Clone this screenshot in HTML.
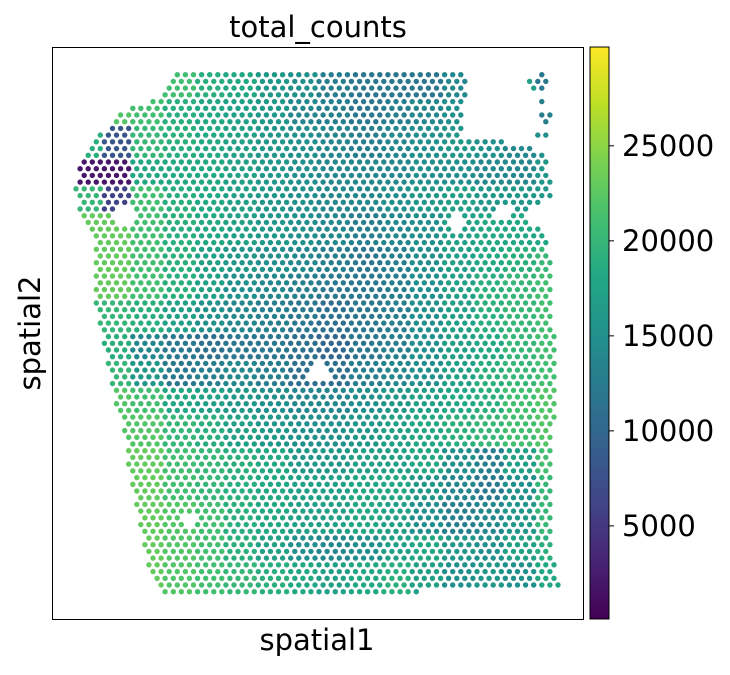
<!DOCTYPE html>
<html><head><meta charset="utf-8"><style>
html,body{margin:0;padding:0;background:#fff;}
svg text{font-family:"DejaVu Sans","Liberation Sans",sans-serif;fill:#000;}
</style></head><body>
<svg id="chart" width="730" height="670" viewBox="0 0 730 670" xmlns="http://www.w3.org/2000/svg">
<defs>
<linearGradient id="vir" x1="0" y1="1" x2="0" y2="0">
<stop offset="0" stop-color="#440154"/><stop offset="0.1" stop-color="#482475"/><stop offset="0.2" stop-color="#414487"/><stop offset="0.3" stop-color="#355f8d"/><stop offset="0.4" stop-color="#2a788e"/><stop offset="0.5" stop-color="#21918c"/><stop offset="0.6" stop-color="#22a884"/><stop offset="0.7" stop-color="#44bf70"/><stop offset="0.8" stop-color="#7ad151"/><stop offset="0.9" stop-color="#bddf26"/><stop offset="1" stop-color="#fde725"/>
</linearGradient>
</defs>
<text x="318" y="37" font-size="29" text-anchor="middle">total_counts</text>
<g id="spots"></g>
<rect x="52.5" y="47.5" width="531" height="572" fill="none" stroke="#000" stroke-width="1"/>
<text x="317" y="650" font-size="29" text-anchor="middle">spatial1</text>
<text x="0" y="0" font-size="29" text-anchor="middle" transform="translate(40,333) rotate(-90)">spatial2</text>
<rect x="590" y="47" width="19" height="572" fill="url(#vir)" stroke="#000" stroke-width="1"/>
<g id="cbticks"></g>
</svg>
<script>
const cbTicks = [5000, 10000, 15000, 20000, 25000];
const vmin = 100, vmax = 30200;
// coarse value map (thousands), 16 cols x 18 row bands, null = outside
const valueBands = [
[null,null,21,21,19,18,16,15,13,12,12,12,14,null,null,12],
[21,22,21,19,18,17,16,14,13,12,13,14,15,15,14,13],
[19,8,20,19,18,17,16,15,14,13,14,15,16,15,14,15],
[2,2,18,18,18,17,16,15,14,14,14,15,15,14,14,16],
[20,6,21,19,18,17,16,15,14,14,15,16,17,16,16,16],
[23,23,21,19,18,17,16,15,14,13,14,15,17,18,18,18],
[23,23,21,19,17,16,15,14,13,12,13,15,17,18,19,20],
[23,23,21,19,17,15,14,13,12,12,13,15,17,19,20,21],
[20,20,19,17,15,14,13,12,11,12,13,15,17,19,20,21],
[19,19,14,12,11,12,12,11,10,12,13,15,17,18,20,21],
[20,20,16,12,13,14,13,11,11,13,14,15,17,19,20,21],
[22,22,21,18,17,16,15,14,14,15,16,17,18,19,21,22],
[22,22,22,20,19,17,16,15,15,16,17,18,19,20,21,22],
[23,23,23,21,20,19,18,16,16,17,17,18,15,13,17,21],
[23,23,23,21,20,19,18,17,17,18,18,16,14,12,15,20],
[23,23,23,22,21,19,18,17,17,18,17,15,13,14,16,20],
[23,23,23,22,21,19,17,15,14,15,17,18,16,15,17,19],
[23,23,23,22,21,20,19,18,17,18,19,17,15,16,15,18]
];
// tissue outline keypoints [y, x]
const leftEdge = [[75,178],[95,160],[115,118],[135,100],[155,85],[181,75],[200,78],[215,80],[240,95],[300,95],[330,100],[350,105],[370,108],[400,115],[430,125],[470,128],[500,135],[540,145],[570,150],[592,160]];
const rightEdge = [[75,467],[120,460],[135,462],[145,520],[155,548],[200,550],[212,522],[235,545],[260,550],[300,552],[400,555],[450,550],[530,550],[570,555],[586,560],[592,410]];
// holes [y, x, radius]
const holes = [[372,320,11],[215,125,10],[222,458,8],[212,505,9],[520,190,8]];
const topRight = [[75,538,542],[81,528,548],[88,532,540],[95,540,542],[102,540,542],[115,542,548],[125,540,550],[135,536,550]];

const NS = "http://www.w3.org/2000/svg";
const yScale = v => 619 - (v - vmin) / (vmax - vmin) * 572;
const stops = ["#440154","#482475","#414487","#355f8d","#2a788e","#21918c","#22a884","#44bf70","#7ad151","#bddf26","#fde725"];
function hex(c){return [1,3,5].map(i=>parseInt(c.substr(i,2),16));}
function viridis(v){
  let t = Math.max(0, Math.min(1, (v - vmin) / (vmax - vmin))) * 10;
  let i = Math.min(9, Math.floor(t)), f = t - i;
  const a = hex(stops[i]), b = hex(stops[i+1]);
  return "rgb(" + a.map((x,k)=>Math.round(x+(b[k]-x)*f)).join(",") + ")";
}
function edgeAt(list, y){
  if (y <= list[0][0]) return list[0][1];
  for (let i=1;i<list.length;i++){ if (y <= list[i][0]) { const [y0,x0]=list[i-1],[y1,x1]=list[i]; return x0+(x1-x0)*(y-y0)/(y1-y0);} }
  return list[list.length-1][1];
}
function bandValue(x,y){
  let r = Math.max(0, Math.min(17, Math.floor((y-70)/28.9)));
  let c = Math.max(0, Math.min(15, Math.floor((x-70)/31)));
  let v = valueBands[r][c];
  if (v === null) v = 17;
  return v*1000;
}
const g = document.getElementById("spots");
const rows = 78, dy = (591.7-74.7)/77, dx = 4.05;
for (let r=0;r<rows;r++){
  const y = 74.7 + r*dy;
  const L = edgeAt(leftEdge,y), R = edgeAt(rightEdge,y);
  let tr = topRight.find(t=>Math.abs(t[0]-y)<3.4);
  for (let c=(r%2);c<124;c+=2){
    const x = 72 + c*dx;
    let inside = (x>=L-1 && x<=R+1) || (tr && x>=tr[1]-2 && x<=tr[2]+2);
    if (!inside) continue;
    if (holes.some(h=>Math.hypot(h[1]-x,h[0]-y)<h[2])) continue;
    const el = document.createElementNS(NS,"circle");
    
    
    el.setAttribute("cx", x.toFixed(1)); el.setAttribute("cy", y.toFixed(1));
    el.setAttribute("r", "2.7"); el.setAttribute("fill", viridis(bandValue(x,y)));
    g.appendChild(el);
  }
}
const tg = document.getElementById("cbticks");
cbTicks.forEach(t=>{
  const y = yScale(t);
  const ln = document.createElementNS(NS,"line");
  
  
  ln.setAttribute("x1",609); ln.setAttribute("x2",614); ln.setAttribute("y1",y); ln.setAttribute("y2",y);
  ln.setAttribute("stroke","#000");
  tg.appendChild(ln);
  const tx = document.createElementNS(NS,"text");
  
  
  tx.setAttribute("x",622); tx.setAttribute("y",y+10); tx.setAttribute("font-size","29");
  tx.textContent = t;
  tg.appendChild(tx);
});
</script>
</body></html>
